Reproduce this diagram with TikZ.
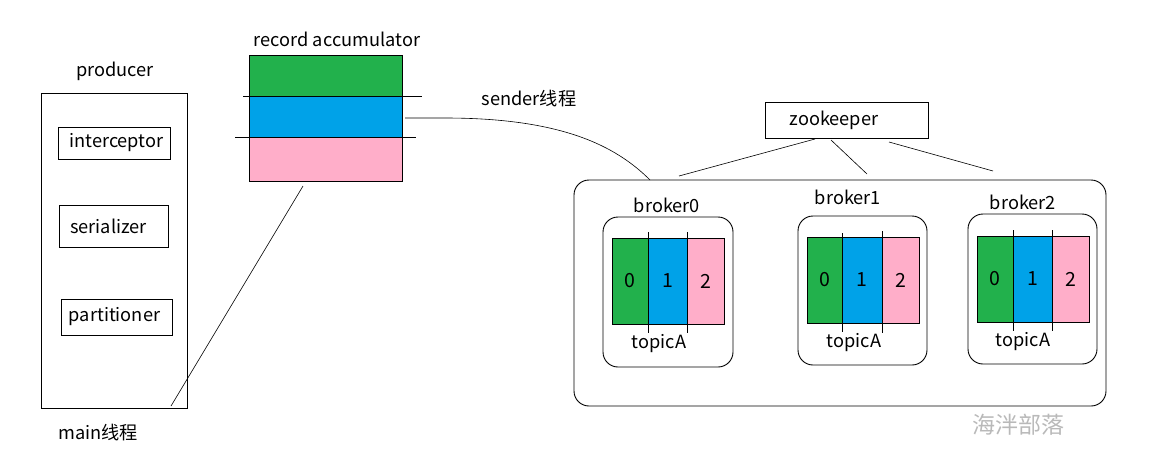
\documentclass[tikz,border=0pt]{standalone}
\usepackage{fontspec}
\setmainfont{Noto Sans CJK SC}
\definecolor{pgreen}{RGB}{34,177,76}
\definecolor{pblue}{RGB}{0,162,232}
\definecolor{ppink}{RGB}{255,174,201}
\definecolor{wmgray}{RGB}{185,185,185}
\begin{document}
\begin{tikzpicture}[x=1pt,y=-1pt, line width=0.9pt,
  every node/.style={font=\fontsize{18.2}{21}\selectfont, inner sep=0pt, outer sep=0pt},
  box/.style={draw, rectangle, anchor=north west},
  rbox/.style={draw, rounded corners=15pt, anchor=north west},
  cell/.style={draw, anchor=north west, minimum height=86pt, font=\fontsize{19.5}{22}\selectfont},
  acc/.style={draw, anchor=north west, minimum width=153pt},
  thinline/.style={line width=0.6pt}]
\useasboundingbox (0,0) rectangle (1166,472);

% producer
\node (prodlbl) at (115,71) {producer};
\node[box, minimum width=146pt, minimum height=315pt] (prod) at (41,93) {};
\node[box, minimum width=112pt, minimum height=32pt] (icp) at (58,127) {\hspace*{5pt}interceptor};
\node[box, minimum width=109pt, minimum height=42pt] (ser) at (59,205) {serializer\hspace*{10pt}};
\node[box, minimum width=111pt, minimum height=36pt] (par) at (61,299) {partitioner\hspace*{4pt}};
\node (mainlbl) at (98,433) {main线程};

% record accumulator
\node (acclbl) at (337,39) {record accumulator};
\node[acc, fill=pgreen, minimum height=41pt] (accg) at (249,55) {};
\node[acc, fill=pblue, minimum height=41pt] (accb) at (249,96) {};
\node[acc, fill=ppink, minimum height=44pt] (accp) at (249,137) {};
\coordinate (l1a) at (243,96); \coordinate (l1b) at (422,96);
\coordinate (l2a) at (235,137); \coordinate (l2b) at (416,137);
\draw (l1a) -- (l1b);
\draw (l2a) -- (l2b);
\coordinate (d0) at (303,186); \coordinate (d1) at (171,406);
\draw[thinline] (d0) -- (d1);

% sender
\node (sndlbl) at (529,99) {sender线程};
\coordinate (s0) at (405,118); \coordinate (s1) at (445,118); \coordinate (s2) at (650,180);
\draw[thinline] (s0) -- (s1) .. controls (560,118) and (615,145) .. (s2);

% zookeeper
\node[box, minimum width=163pt, minimum height=36pt] (zk) at (765,102) {zookeeper\hspace*{25pt}};
\coordinate (z0a) at (815,139); \coordinate (z0b) at (679,176);
\coordinate (z1a) at (831,140); \coordinate (z1b) at (867,174);
\coordinate (z2a) at (889,142); \coordinate (z2b) at (993,171);
\draw[thinline] (z0a) -- (z0b);
\draw[thinline] (z1a) -- (z1b);
\draw[thinline] (z2a) -- (z2b);

% cluster
\node[rbox, minimum width=532pt, minimum height=226pt] (cluster) at (574,180) {};

% broker0
\node (b0lbl) at (667,205) {broker0};
\node[rbox, minimum width=130pt, minimum height=150pt] (b0) at (603,217) {};
\node[cell, fill=pgreen, minimum width=36pt] (b0p0) at (612,238) {0};
\node[cell, fill=pblue, minimum width=39pt] (b0p1) at (648,238) {1};
\node[cell, fill=ppink, minimum width=37pt] (b0p2) at (687,238) {2};
\draw[thinline] (648,232) -- (648,333);
\draw[thinline] (687,232) -- (687,333);
\node (b0t) at (659,344) {topicA};

% broker1
\node (b1lbl) at (848,197) {broker1};
\node[rbox, minimum width=129pt, minimum height=149pt] (b1) at (798,216) {};
\node[cell, fill=pgreen, minimum width=35pt] (b1p0) at (807,237) {0};
\node[cell, fill=pblue, minimum width=40pt] (b1p1) at (842,237) {1};
\node[cell, fill=ppink, minimum width=37pt] (b1p2) at (882,237) {2};
\draw[thinline] (842,233) -- (842,332);
\draw[thinline] (882,231) -- (882,333);
\node (b1t) at (854,343) {topicA};

% broker2
\node (b2lbl) at (1023,202) {broker2};
\node[rbox, minimum width=129pt, minimum height=150pt] (b2) at (968,214) {};
\node[cell, fill=pgreen, minimum width=36pt] (b2p0) at (977,236) {0};
\node[cell, fill=pblue, minimum width=39pt] (b2p1) at (1013,236) {1};
\node[cell, fill=ppink, minimum width=37pt] (b2p2) at (1052,236) {2};
\draw[thinline] (1013,230) -- (1013,331);
\draw[thinline] (1052,230) -- (1052,331);
\node (b2t) at (1023,342) {topicA};

% watermark
\node[text=wmgray, font=\fontsize{23}{26}\selectfont] (wm) at (1018,425) {海泮部落};
\end{tikzpicture}
\end{document}
